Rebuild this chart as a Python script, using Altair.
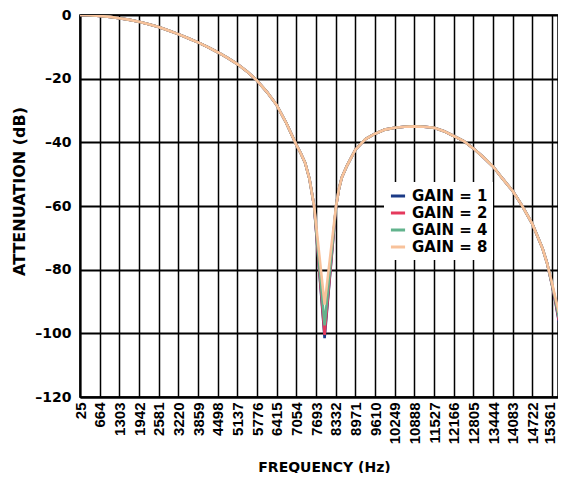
import altair as alt
import pandas as pd

# ---- data ----
FREQ = [25, 350, 664, 1000, 1303, 1600, 1942, 2260, 2581, 2900, 3220, 3540,
        3859, 4180, 4498, 4820, 5137, 5460, 5776, 6100, 6415, 6730, 7054,
        7200, 7339, 7480, 7630, 7971, 8343, 8440, 8530, 8700, 8971, 9300,
        9610, 9930, 10249, 10570, 10888, 11200, 11527, 11850, 12166, 12490,
        12805, 13120, 13444, 13760, 14083, 14400, 14722, 15050, 15200, 15361,
        15480, 15583]

_COMMON_A = [0, -0.1, -0.3, -0.6, -1.0, -1.45, -2.1, -2.9, -3.8, -4.9, -6.0, -7.3,
             -8.6, -10.1, -11.7, -13.5, -15.4, -17.8, -20.6, -24.2, -28.3, -34.0, -40.8,
             -43.5, -46.5, -51.5, -60.0]
_COMMON_B = [-60.0, -54.5, -51.0, -47.3, -42.3, -39.0,
             -37.3, -36.0, -35.4, -35.1, -35.0, -35.1, -35.4, -36.5, -38.0, -39.6,
             -41.9, -44.6, -47.6, -51.5, -55.3, -60.1, -65.7, -73.3, -78.0]

GAIN_1 = _COMMON_A + [-101.5] + _COMMON_B + [-85.0, -90.8, -96.5]
GAIN_2 = _COMMON_A + [-100.5] + _COMMON_B + [-84.9, -90.5, -96.0]
GAIN_4 = _COMMON_A + [-97.5] + _COMMON_B + [-84.7, -90.0, -95.0]
GAIN_8 = _COMMON_A + [-91.0] + _COMMON_B + [-84.3, -89.3, -93.5]

SERIES = ["GAIN = 1", "GAIN = 2", "GAIN = 4", "GAIN = 8"]
COLORS = ["#1b3a86", "#e5395c", "#62b38d", "#f8c29b"]

X_TICKS = [25, 664, 1303, 1942, 2581, 3220, 3859, 4498, 5137, 5776, 6415, 7054,
           7693, 8332, 8971, 9610, 10249, 10888, 11527, 12166, 12805, 13444,
           14083, 14722, 15361]
Y_TICKS = [0, -20, -40, -60, -80, -100, -120]

# ---- build long table ----
rows = []
for name, vals in zip(SERIES, [GAIN_1, GAIN_2, GAIN_4, GAIN_8]):
    for i, (f, v) in enumerate(zip(FREQ, vals)):
        rows.append({"freq": f, "att": v, "series": name, "idx": i})
df = pd.DataFrame(rows)

TITLE_FONT = "DejaVu Sans"

chart = alt.Chart(df).mark_line(strokeWidth=2.6, interpolate="linear", clip=True).encode(
    x=alt.X("freq:Q",
            scale=alt.Scale(domain=[25, 15553], nice=False, zero=False),
            axis=alt.Axis(values=X_TICKS, format="d", labelAngle=-90,
                          title="FREQUENCY (Hz)", ticks=False,
                          labelFont="Liberation Sans", labelFontSize=15,
                          labelFontWeight="bold", labelColor="black",
                          labelPadding=5, labelOverlap=False,
                          labelFlush=False,
                          labelOffset={"condition": {"test": "datum.value == 15361", "value": -3},
                                       "value": 0},
                          titleFont=TITLE_FONT, titleFontSize=14,
                          titleFontWeight="bold", titleColor="black",
                          titleX=244, titleAlign="center",
                          titleY=63, titleBaseline="top",
                          grid=True, gridColor="black", gridWidth=1.5,
                          gridOpacity=1,
                          domainColor="black", domainWidth=2)),
    y=alt.Y("att:Q",
            scale=alt.Scale(domain=[-120, 0], nice=False),
            axis=alt.Axis(values=Y_TICKS, title="ATTENUATION (dB)", ticks=False,
                          labelExpr="datum.value == 0 ? '0' : '\u2013' + format(-datum.value, 'd')",
                          labelFont=TITLE_FONT, labelFontSize=14,
                          labelFontWeight="bold", labelColor="black",
                          labelPadding=9,
                          titleFont=TITLE_FONT, titleFontSize=16,
                          titleFontWeight="bold", titleColor="black",
                          titleAngle=270, titleX=-61, titleY=176,
                          titleAlign="center", titleBaseline="middle",
                          grid=True, gridColor="black", gridWidth=2,
                          gridOpacity=1,
                          domainColor="black", domainWidth=2)),
    color=alt.Color("series:N",
                    scale=alt.Scale(domain=SERIES, range=COLORS),
                    legend=alt.Legend(title=None, orient="none",
                                      legendX=304, legendY=167,
                                      symbolType="stroke", symbolStrokeWidth=3,
                                      symbolSize=200, fillColor="white",
                                      padding=5, rowPadding=-2,
                                      labelFont=TITLE_FONT, labelFontSize=15,
                                      labelFontWeight="bold", labelColor="black",
                                      labelOffset=5)),
    order=alt.Order("idx:Q"),
).properties(
    width=478, height=382,
    autosize=alt.AutoSizeParams(type="none"),
    padding={"left": 72, "top": 7, "right": 0, "bottom": 76},
).configure_view(stroke="black", strokeWidth=1.5)

chart.save("out.html", embed_options={"renderer": "svg", "actions": False})
